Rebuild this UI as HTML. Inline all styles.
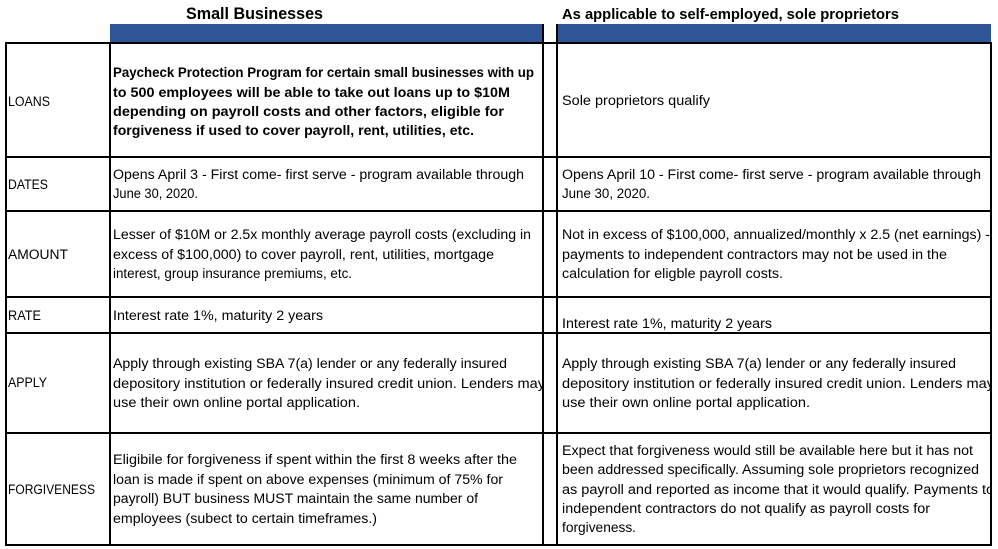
<!DOCTYPE html>
<html><head><meta charset="utf-8"><style>
html,body{margin:0;padding:0;background:#fff;width:998px;height:549px;overflow:hidden}
svg{display:block}
text{font-family:"Liberation Sans",sans-serif;font-size:13.5px;fill:#000}
.b{font-weight:bold}
</style></head><body>
<svg width="998" height="549" viewBox="0 0 998 549" xmlns="http://www.w3.org/2000/svg">
<defs>
<clipPath id="cl"><rect x="111" y="0" width="432" height="549"/></clipPath>
<clipPath id="cr"><rect x="558" y="0" width="432" height="549"/></clipPath>
</defs>
<text class="b" x="186" y="19" style="font-size:17px" textLength="137" lengthAdjust="spacingAndGlyphs">Small Businesses</text>
<text class="b" x="562" y="19" style="font-size:14.5px" textLength="337" lengthAdjust="spacingAndGlyphs">As applicable to self-employed, sole proprietors</text>
<rect x="110" y="24" width="433" height="19" fill="#2F5597"/>
<rect x="557" y="24" width="434" height="19" fill="#2F5597"/>
<g stroke="#000" stroke-width="2" fill="none">
<line x1="5" y1="43" x2="992" y2="43"/>
<line x1="5" y1="157" x2="992" y2="157"/>
<line x1="5" y1="211" x2="992" y2="211"/>
<line x1="5" y1="297" x2="992" y2="297"/>
<line x1="5" y1="333" x2="992" y2="333"/>
<line x1="5" y1="433" x2="992" y2="433"/>
<line x1="5" y1="545" x2="992" y2="545"/>
<line x1="6" y1="43" x2="6" y2="546"/>
<line x1="110" y1="43" x2="110" y2="546"/>
<line x1="543" y1="24" x2="543" y2="546"/>
<line x1="557" y1="24" x2="557" y2="546"/>
<line x1="991" y1="43" x2="991" y2="546"/>
</g>
<text x="8" y="106" textLength="42" lengthAdjust="spacingAndGlyphs">LOANS</text>
<text x="8" y="189" textLength="40" lengthAdjust="spacingAndGlyphs">DATES</text>
<text x="8" y="259" textLength="60" lengthAdjust="spacingAndGlyphs">AMOUNT</text>
<text x="8" y="320" textLength="33" lengthAdjust="spacingAndGlyphs">RATE</text>
<text x="8" y="387" textLength="39" lengthAdjust="spacingAndGlyphs">APPLY</text>
<text x="8" y="494" textLength="87" lengthAdjust="spacingAndGlyphs">FORGIVENESS</text>
<g clip-path="url(#cl)">
<text class="b" x="113" y="77" textLength="421" lengthAdjust="spacingAndGlyphs">Paycheck Protection Program for certain small businesses with up</text>
<text class="b" x="113" y="97" textLength="397" lengthAdjust="spacingAndGlyphs">to 500 employees will be able to take out loans up to $10M</text>
<text class="b" x="113" y="116" textLength="391" lengthAdjust="spacingAndGlyphs">depending on payroll costs and other factors, eligible for</text>
<text class="b" x="113" y="135" textLength="361" lengthAdjust="spacingAndGlyphs">forgiveness if used to cover payroll, rent, utilities, etc.</text>
<text x="113" y="179" textLength="411" lengthAdjust="spacingAndGlyphs">Opens April 3 - First come- first serve - program available through</text>
<text x="113" y="198" textLength="85" lengthAdjust="spacingAndGlyphs">June 30, 2020.</text>
<text x="113" y="239" textLength="418" lengthAdjust="spacingAndGlyphs">Lesser of $10M or 2.5x monthly average payroll costs (excluding in</text>
<text x="113" y="259" textLength="381" lengthAdjust="spacingAndGlyphs">excess of $100,000) to cover payroll, rent, utilities, mortgage</text>
<text x="113" y="278" textLength="239" lengthAdjust="spacingAndGlyphs">interest, group insurance premiums, etc.</text>
<text x="113" y="320" textLength="210" lengthAdjust="spacingAndGlyphs">Interest rate 1%, maturity 2 years</text>
<text x="113" y="368" textLength="394" lengthAdjust="spacingAndGlyphs">Apply through existing SBA 7(a) lender or any federally insured</text>
<text x="113" y="388" textLength="432" lengthAdjust="spacingAndGlyphs">depository institution or federally insured credit union. Lenders may</text>
<text x="113" y="407" textLength="247" lengthAdjust="spacingAndGlyphs">use their own online portal application.</text>
<text x="113" y="464" textLength="404" lengthAdjust="spacingAndGlyphs">Eligibile for forgiveness if spent within the first 8 weeks after the</text>
<text x="113" y="484" textLength="390" lengthAdjust="spacingAndGlyphs">loan is made if spent on above expenses (minimum of 75% for</text>
<text x="113" y="503" textLength="365" lengthAdjust="spacingAndGlyphs">payroll) BUT business MUST maintain the same number of</text>
<text x="113" y="523" textLength="264" lengthAdjust="spacingAndGlyphs">employees (subect to certain timeframes.)</text>
</g>
<g clip-path="url(#cr)">
<text x="562" y="105" textLength="148" lengthAdjust="spacingAndGlyphs">Sole proprietors qualify</text>
<text x="562" y="179" textLength="419" lengthAdjust="spacingAndGlyphs">Opens April 10 - First come- first serve - program available through</text>
<text x="562" y="198" textLength="88" lengthAdjust="spacingAndGlyphs">June 30, 2020.</text>
<text x="562" y="239" textLength="428" lengthAdjust="spacingAndGlyphs">Not in excess of $100,000, annualized/monthly x 2.5 (net earnings) -</text>
<text x="562" y="259" textLength="385" lengthAdjust="spacingAndGlyphs">payments to independent contractors may not be used in the</text>
<text x="562" y="278" textLength="221" lengthAdjust="spacingAndGlyphs">calculation for eligble payroll costs.</text>
<text x="562" y="328" textLength="210" lengthAdjust="spacingAndGlyphs">Interest rate 1%, maturity 2 years</text>
<text x="562" y="368" textLength="394" lengthAdjust="spacingAndGlyphs">Apply through existing SBA 7(a) lender or any federally insured</text>
<text x="562" y="388" textLength="432" lengthAdjust="spacingAndGlyphs">depository institution or federally insured credit union. Lenders may</text>
<text x="562" y="407" textLength="248" lengthAdjust="spacingAndGlyphs">use their own online portal application.</text>
<text x="562" y="455" textLength="411" lengthAdjust="spacingAndGlyphs">Expect that forgiveness would still be available here but it has not</text>
<text x="562" y="474" textLength="417" lengthAdjust="spacingAndGlyphs">been addressed specifically.  Assuming sole proprietors recognized</text>
<text x="562" y="494" textLength="432" lengthAdjust="spacingAndGlyphs">as payroll and reported as income that it would qualify. Payments to</text>
<text x="562" y="513" textLength="368" lengthAdjust="spacingAndGlyphs">independent contractors do not qualify as payroll costs for</text>
<text x="562" y="532" textLength="74" lengthAdjust="spacingAndGlyphs">forgiveness.</text>
</g>
</svg>
</body></html>
